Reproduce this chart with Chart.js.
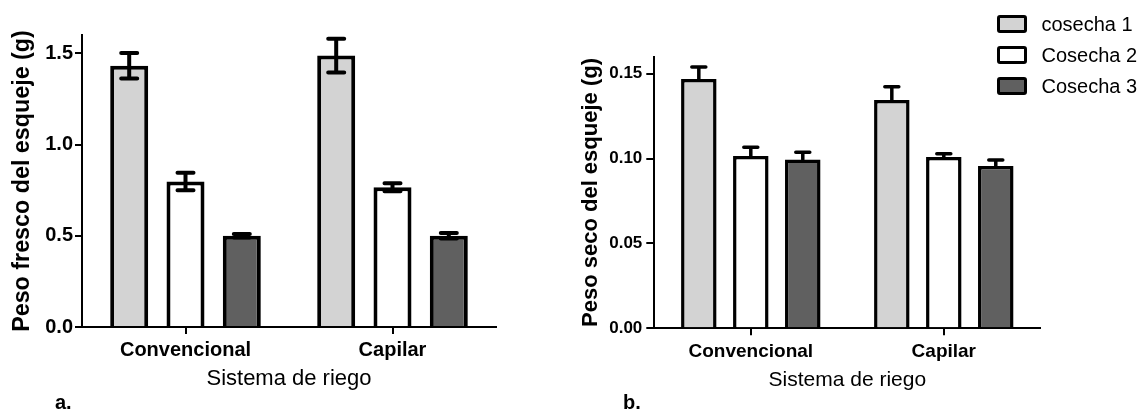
<!DOCTYPE html>
<html><head><meta charset="utf-8">
<script src="https://cdn.jsdelivr.net/npm/chart.js@4"></script>
<style>
html,body{margin:0;padding:0;background:#fff;width:1145px;height:410px;overflow:hidden;font-family:'Liberation Sans',Arial,sans-serif;color:#000}
#wa{position:absolute;left:0;top:0;width:530px;height:410px}
#wb{position:absolute;left:540px;top:0;width:605px;height:410px}
.panel{position:absolute;top:392px;font-weight:bold;font-size:20px;line-height:20px}
.li{position:absolute;left:997px;height:18px;display:flex;align-items:center}
.li .box{box-sizing:border-box;width:30px;height:18px;border:3.5px solid #000;border-radius:3px}
.li .txt{margin-left:14.5px;font-size:20px;line-height:18px;white-space:nowrap}
</style></head>
<body>
<div id="wa"><canvas id="ca"></canvas></div>
<div id="wb"><canvas id="cb"></canvas></div>
<div class="panel" style="left:55px">a.</div>
<div class="panel" style="left:623px">b.</div>
<div id="legend"></div>
<script>
// ---- data ----
const categories = ['Convencional', 'Capilar'];
const seriesNames = ['cosecha 1', 'Cosecha 2', 'Cosecha 3'];
const xTitle = 'Sistema de riego';

const freshTitle = 'Peso fresco del esqueje (g)';
const freshC1 = [1.432, 1.487];
const freshC2 = [0.797, 0.766];
const freshC3 = [0.500, 0.500];
const freshErrC1 = [0.070, 0.093];
const freshErrC2 = [0.048, 0.022];
const freshErrC3 = [0.010, 0.015];
const freshTicks = [0.0, 0.5, 1.0, 1.5];

const dryTitle = 'Peso seco del esqueje (g)';
const dryC1 = [0.1468, 0.1345];
const dryC2 = [0.1015, 0.1009];
const dryC3 = [0.0995, 0.0956];
const dryErrC1 = [0.0071, 0.0078];
const dryErrC2 = [0.0051, 0.0020];
const dryErrC3 = [0.0042, 0.0035];
const dryTicks = [0.00, 0.05, 0.10, 0.15];

const seriesColors = ['#d3d3d3', '#ffffff', '#606060'];

// ---- legend (HTML) ----
const leg = document.getElementById('legend');
seriesNames.forEach((n, i) => {
  const d = document.createElement('div');
  d.className = 'li';
  d.style.top = (15 + i * 30.8) + 'px';
  const b = document.createElement('span'); b.className = 'box'; b.style.background = seriesColors[i];
  const t = document.createElement('span'); t.className = 'txt'; t.textContent = n;
  d.appendChild(b); d.appendChild(t); leg.appendChild(d);
});

const FONT = "'Liberation Sans', Arial, sans-serif";

const errorBars = {
  id: 'errorBars',
  afterDatasetsDraw(chart, args, opts) {
    const ctx = chart.ctx, y = chart.scales.y;
    chart.data.datasets.forEach((ds, i) => {
      const meta = chart.getDatasetMeta(i);
      meta.data.forEach((bar, j) => {
        const m = ds.data[j], e = ds.errors[j];
        const yt = y.getPixelForValue(m + e);
        const yb = opts.both ? y.getPixelForValue(m - e) : y.getPixelForValue(m);
        const h = opts.cap / 2;
        ctx.save();
        ctx.strokeStyle = '#000'; ctx.lineWidth = opts.width; ctx.lineCap = 'round';
        ctx.beginPath();
        ctx.moveTo(bar.x, yt); ctx.lineTo(bar.x, yb);
        ctx.moveTo(bar.x - h, yt); ctx.lineTo(bar.x + h, yt);
        if (opts.both) { ctx.moveTo(bar.x - h, yb); ctx.lineTo(bar.x + h, yb); }
        ctx.stroke();
        ctx.restore();
      });
    });
  }
};

function makeChart(id, s, values, errors, ticksList, yTitleText) {
  const datasets = values.map((v, i) => ({
    label: seriesNames[i],
    data: v,
    errors: errors[i],
    backgroundColor: seriesColors[i],
    borderColor: '#000',
    borderWidth: s.barBorder,
    categoryPercentage: s.catPct,
    barPercentage: s.barPct
  }));
  return new Chart(document.getElementById(id), {
    type: 'bar',
    data: { labels: categories, datasets },
    plugins: [errorBars],
    options: {
      responsive: true, maintainAspectRatio: false, animation: false,
      layout: { padding: { left: 0, top: s.top, right: s.right, bottom: 0 } },
      plugins: {
        legend: { display: false }, tooltip: { enabled: false },
        errorBars: { both: s.both, width: s.errWidth, cap: s.cap }
      },
      scales: {
        x: {
          grid: { offset: false, drawOnChartArea: false, drawTicks: true, tickLength: 7, color: '#000', lineWidth: 2 },
          border: { display: true, color: '#000', width: 2 },
          ticks: { color: '#000', font: { family: FONT, size: s.xTickSize, weight: 'bold' }, padding: s.xTickPad, maxRotation: 0 },
          title: { display: true, text: xTitle, color: '#000', font: { family: FONT, size: s.xTitleSize }, padding: { top: 0, bottom: s.xTitlePad } },
          afterFit(sc) { sc.height = s.xHeight; }
        },
        y: {
          min: 0, max: s.yMax,
          grid: { drawOnChartArea: false, drawTicks: true, tickLength: s.yTickLen, color: '#000', lineWidth: 2 },
          border: { display: true, color: '#000', width: 2 },
          afterBuildTicks(sc) { sc.ticks = ticksList.map(v => ({ value: v })); },
          ticks: {
            color: '#000', padding: s.yTickPad,
            font: { family: FONT, size: s.yTickSize, weight: 'bold' },
            callback: v => Number(v).toFixed(s.dec)
          },
          title: { display: true, text: yTitleText, color: '#000', font: { family: FONT, size: s.yTitleSize, weight: 'bold' }, padding: { top: s.yTitlePad, bottom: 0 } },
          afterFit(sc) { sc.width = s.yWidth; }
        }
      }
    }
  });
}

makeChart('ca', {
  top: 35, right: 34, xHeight: 83, yWidth: 82, yMax: 1.6, dec: 1,
  barBorder: 4, catPct: 0.816, barPct: 0.675, both: true, errWidth: 4, cap: 16,
  xTickSize: 20, xTickPad: 4, xTitleSize: 22, xTitlePad: 18,
  yTickLen: 7, yTickPad: 2, yTickSize: 20, yTitleSize: 23.3, yTitlePad: 9
}, [freshC1, freshC2, freshC3], [freshErrC1, freshErrC2, freshErrC3], freshTicks, freshTitle);

makeChart('cb', {
  top: 56.7, right: 104.7, xHeight: 81.7, yWidth: 114.3, yMax: 0.16, dec: 2,
  barBorder: 3.5, catPct: 0.808, barPct: 0.683, both: false, errWidth: 3.5, cap: 14,
  xTickSize: 19, xTickPad: 5, xTitleSize: 21, xTitlePad: 17.4,
  yTickLen: 8, yTickPad: 4, yTickSize: 17, yTitleSize: 22, yTitlePad: 37.4
}, [dryC1, dryC2, dryC3], [dryErrC1, dryErrC2, dryErrC3], dryTicks, dryTitle);
</script>
</body></html>
